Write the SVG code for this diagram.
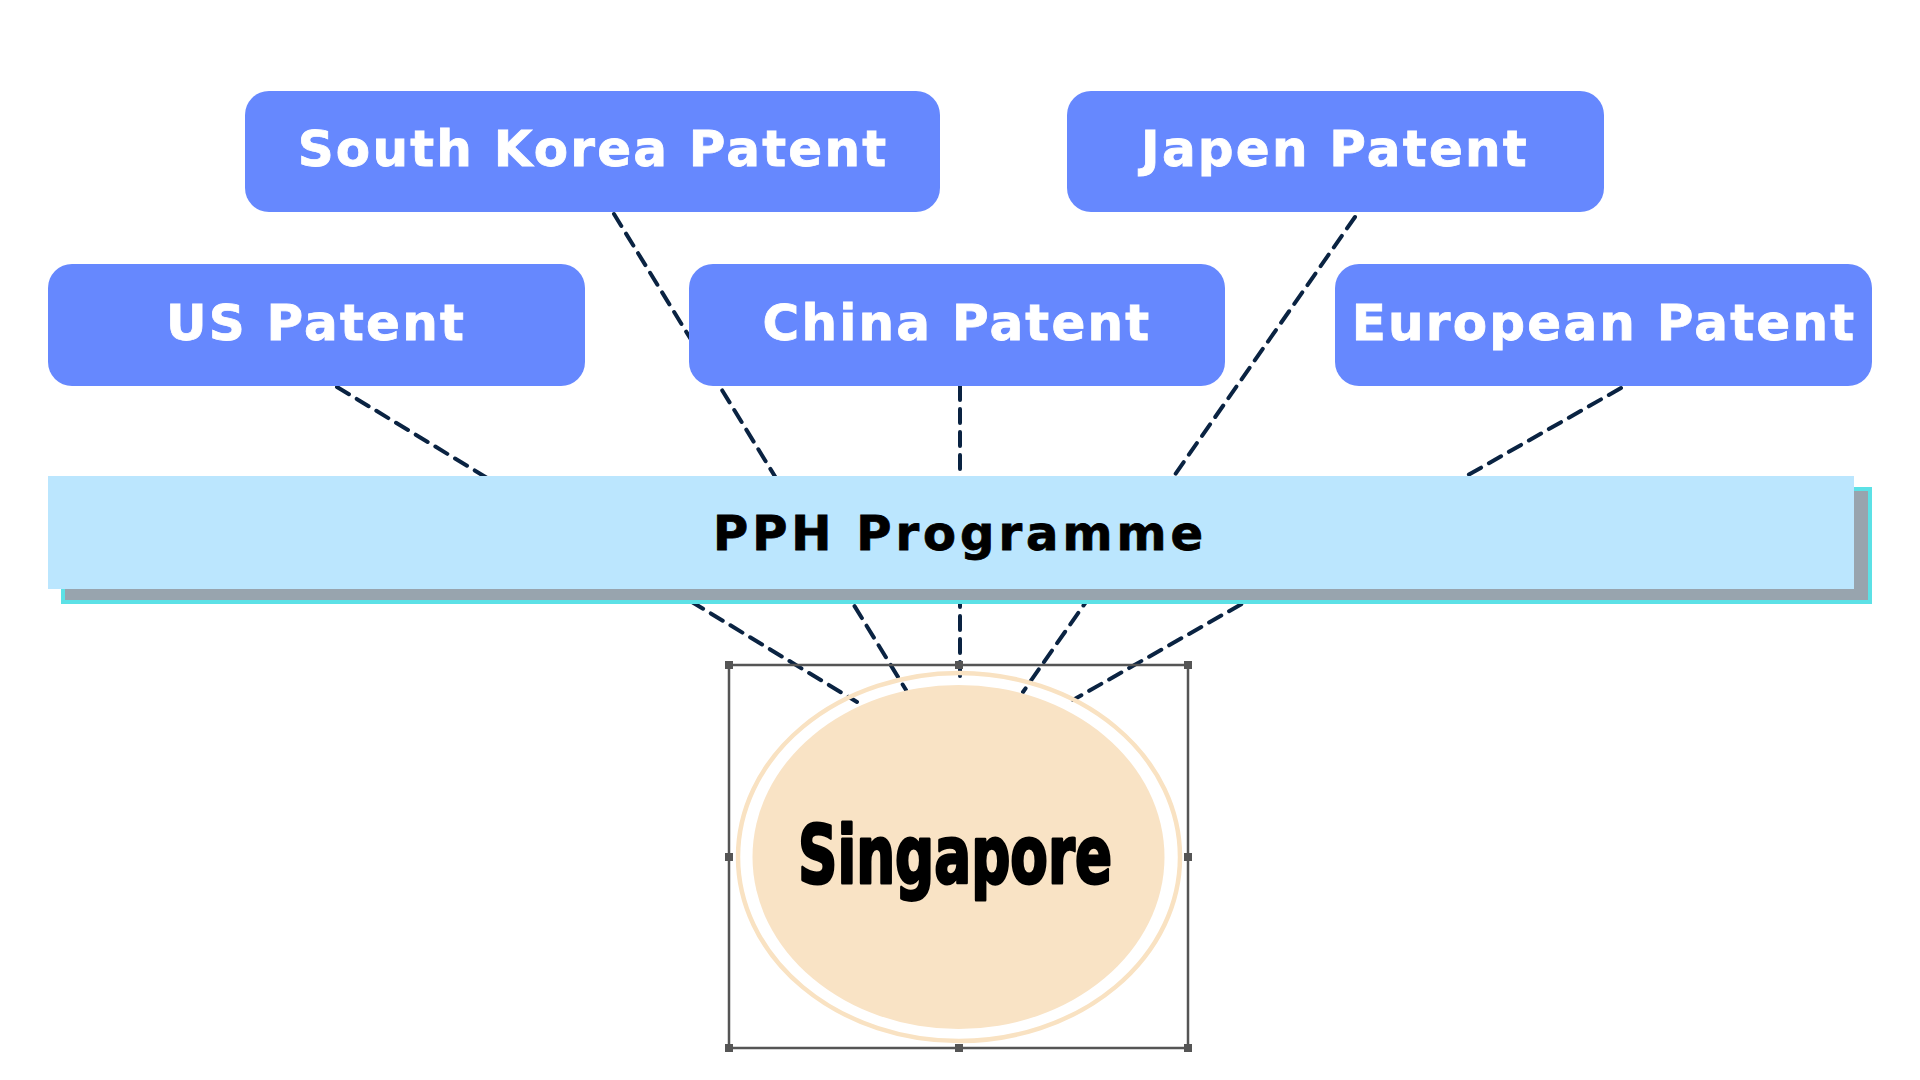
<svg xmlns="http://www.w3.org/2000/svg" width="1920" height="1080" viewBox="0 0 1920 1080">
<style>
.box{fill:#6688FE;}
.boxtxt{font-family:"DejaVu Sans",sans-serif;font-weight:bold;font-size:50px;fill:#FFFFFF;text-anchor:middle;letter-spacing:2.2px;stroke:#FFFFFF;stroke-width:0.8px;}
.conn{fill:none;stroke:#0A2342;stroke-width:4;stroke-linecap:round;stroke-dasharray:14 9;}
.handle{fill:#555555;}
</style>
<rect x="0" y="0" width="1920" height="1080" fill="#FFFFFF"/>
<g id="connectors">
<line class="conn" x1="337" y1="387" x2="857" y2="702"/>
<line class="conn" x1="614" y1="214" x2="906" y2="690"/>
<line class="conn" x1="960" y1="386" x2="960" y2="684"/>
<line class="conn" x1="1355" y1="217" x2="1023" y2="692"/>
<line class="conn" x1="1621" y1="388" x2="1073" y2="700"/>
</g>
<g id="south-korea">
<rect class="box" x="245" y="91" width="695" height="121" rx="24" ry="24"/>
<text class="boxtxt" x="593" y="166">South Korea Patent</text>
</g>
<g id="japen">
<rect class="box" x="1067" y="91" width="537" height="121" rx="24" ry="24"/>
<text class="boxtxt" x="1335" y="166">Japen Patent</text>
</g>
<g id="us">
<rect class="box" x="48" y="264" width="537" height="122" rx="24" ry="24"/>
<text class="boxtxt" x="316" y="340">US Patent</text>
</g>
<g id="china">
<rect class="box" x="689" y="264" width="536" height="122" rx="24" ry="24"/>
<text class="boxtxt" x="957" y="340">China Patent</text>
</g>
<g id="european">
<rect class="box" x="1335" y="264" width="537" height="122" rx="24" ry="24"/>
<text class="boxtxt" x="1604" y="340">European Patent</text>
</g>
<g id="pph">
<rect x="63" y="489" width="1807" height="113" fill="#98A4AE" stroke="#5CE1E6" stroke-width="4"/>
<rect x="48" y="476" width="1806" height="113" fill="#BBE6FE"/>
<text x="960" y="550" font-family="DejaVu Sans, sans-serif" font-weight="bold" font-size="48" fill="#000000" stroke="#000000" stroke-width="0.8" text-anchor="middle" letter-spacing="4">PPH Programme</text>
</g>
<g id="singapore">
<rect x="729" y="665" width="459" height="383" fill="none" stroke="#555555" stroke-width="2.5"/>
<rect class="handle" x="725" y="661" width="8" height="8"/>
<rect class="handle" x="955" y="661" width="8" height="8"/>
<rect class="handle" x="1184" y="661" width="8" height="8"/>
<rect class="handle" x="725" y="853" width="8" height="8"/>
<rect class="handle" x="1184" y="853" width="8" height="8"/>
<rect class="handle" x="725" y="1044" width="8" height="8"/>
<rect class="handle" x="955" y="1044" width="8" height="8"/>
<rect class="handle" x="1184" y="1044" width="8" height="8"/>
<ellipse cx="959" cy="857" rx="221" ry="184" fill="none" stroke="#F9E2C2" stroke-width="4.5"/>
<ellipse cx="958.5" cy="857" rx="206" ry="172" fill="#F9E3C5"/>
<text x="955" y="883" font-family="DejaVu Sans, sans-serif" font-weight="bold" font-size="80" fill="#000000" stroke="#000000" stroke-width="3" stroke-linejoin="round" text-anchor="middle" textLength="314" lengthAdjust="spacingAndGlyphs">Singapore</text>
</g>
</svg>
